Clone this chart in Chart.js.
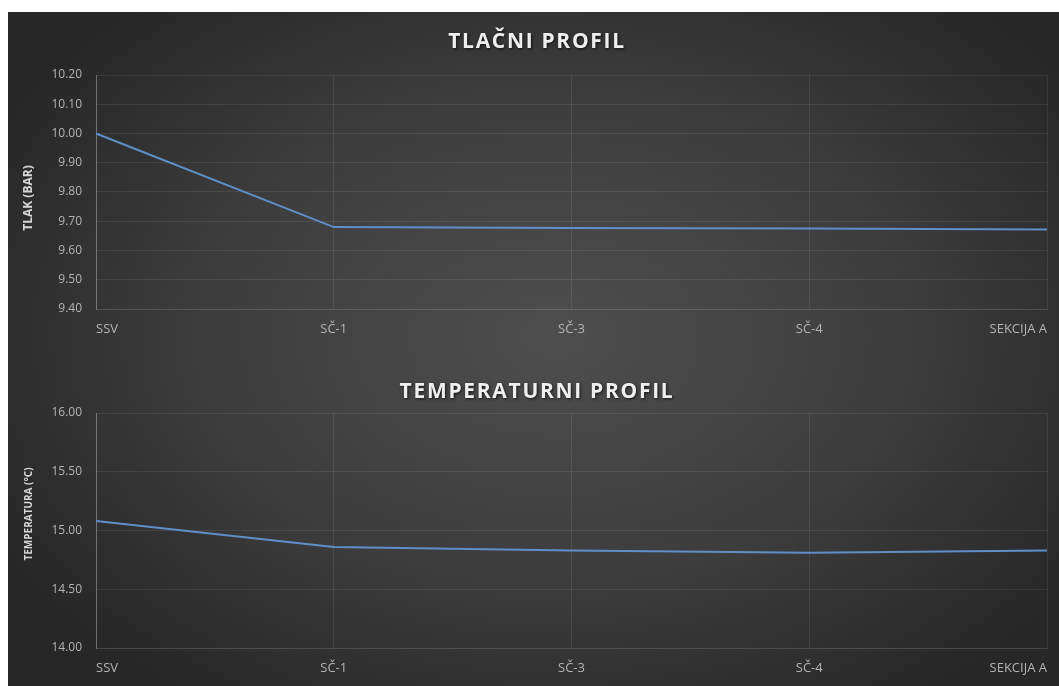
<!DOCTYPE html>
<html lang="hr">
<head>
  <meta charset="UTF-8">
  <title>Tlačni i temperaturni profil</title>
  <script src="https://cdn.jsdelivr.net/npm/chart.js"></script>
  <style>
    body {
      margin: 0;
      background: #ffffff;
      width: 1059px;
      height: 686px;
      overflow: hidden;
      font-family: "Open Sans", sans-serif;
    }
    .panel {
      position: absolute;
      left: 8px;
      top: 12px;
      width: 1051px;
      height: 674px;
      background: radial-gradient(ellipse 60% 65% at 52% 48%, #4e4e4e 0%, #3d3d3d 55%, #272727 100%);
    }
    .box {
      position: absolute;
      left: 0;
      width: 1051px;
    }
    #boxTlak { top: 0; height: 335px; }
    #boxTemp { top: 335px; height: 339px; }
    .naslov {
      position: absolute;
      left: 329px;
      width: 400px;
      text-align: center;
      font-size: 21px;
      font-weight: bold;
      letter-spacing: 1.7px;
      color: #efefef;
      text-shadow: 1px 1px 3px rgba(0,0,0,0.7);
      line-height: 24px;
      white-space: nowrap;
    }
    .osY {
      position: absolute;
      width: 200px;
      height: 16px;
      line-height: 16px;
      text-align: center;
      font-weight: bold;
      color: #d6d6d6;
      transform: rotate(-90deg);
      white-space: nowrap;
    }
  </style>
</head>
<body>
  <div class="panel">
    <div class="box" id="boxTlak"><canvas id="tlak"></canvas></div>
    <div class="box" id="boxTemp"><canvas id="temp"></canvas></div>
    <div class="naslov" style="top:16px">TLAČNI PROFIL</div>
    <div class="naslov" style="top:366px">TEMPERATURNI PROFIL</div>
    <div class="osY" style="left:-80px; top:178px; font-size:12px">TLAK (BAR)</div>
    <div class="osY" style="left:-80px; top:494px; font-size:10px">TEMPERATURA (°C)</div>
  </div>

  <script>
    // podaci
    const tocke = ['SSV', 'SČ-1', 'SČ-3', 'SČ-4', 'SEKCIJA A'];
    const tlak = [10.00, 9.68, 9.677, 9.675, 9.672];
    const temperatura = [15.08, 14.86, 14.83, 14.81, 14.83];
    const tlakTicks = [9.40, 9.50, 9.60, 9.70, 9.80, 9.90, 10.00, 10.10, 10.20];
    const tempTicks = [14.00, 14.50, 15.00, 15.50, 16.00];

    const linija = '#5f8fc6';
    const mreza = 'rgba(255,255,255,0.08)';
    const sivo = '#b4b4b4';

    function napravi(id, podaci, ticks, vrh) {
      const ctx = document.getElementById(id).getContext('2d');
      return new Chart(ctx, {
        type: 'line',
        data: {
          labels: tocke,
          datasets: [{
            data: podaci,
            borderColor: linija,
            borderWidth: 2,
            pointRadius: 0,
            tension: 0,
            fill: false
          }]
        },
        options: {
          responsive: true,
          maintainAspectRatio: false,
          animation: false,
          layout: { padding: { left: 0, right: 7, top: vrh, bottom: 0 } },
          plugins: {
            legend: { display: false },
            tooltip: { enabled: false }
          },
          scales: {
            x: {
              grid: { color: mreza, drawTicks: false },
              border: { color: mreza },
              ticks: {
                color: sivo,
                align: 'inner',
                padding: 12,
                maxRotation: 0,
                font: { family: 'Open Sans', size: 13 }
              },
              afterFit: s => { s.height = 38; }
            },
            y: {
              min: ticks[0],
              max: ticks[ticks.length - 1],
              afterBuildTicks: s => { s.ticks = ticks.map(v => ({ value: v })); },
              grid: { color: mreza, drawTicks: false },
              border: { color: 'rgba(255,255,255,0.28)' },
              ticks: {
                color: sivo,
                padding: 14,
                font: { family: 'Open Sans', size: 12 },
                callback: v => Number(v).toFixed(2)
              },
              afterFit: s => { s.width = 88; }
            }
          }
        }
      });
    }

    napravi('tlak', tlak, tlakTicks, 63);
    napravi('temp', temperatura, tempTicks, 66);
  </script>
</body>
</html>
